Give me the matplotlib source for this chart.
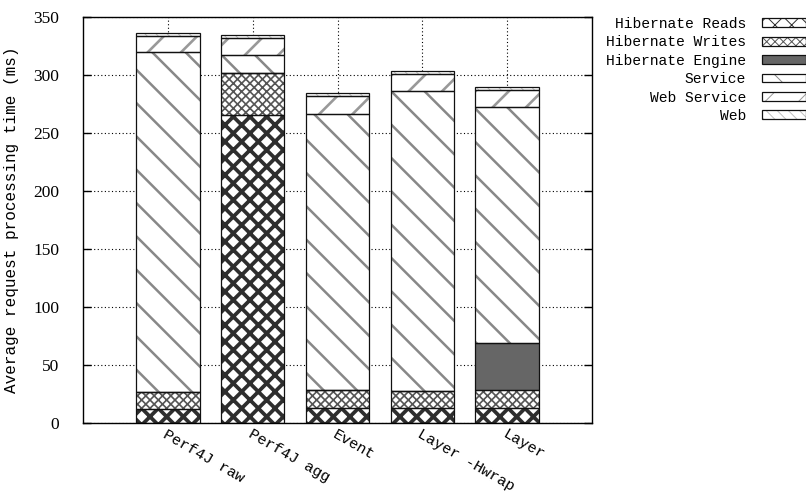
import numpy as np
import matplotlib
matplotlib.use("Agg")
import matplotlib.pyplot as plt

# data (ms), stacked bottom to top
categories = ["Perf4J raw", "Perf4J agg", "Event", "Layer -Hwrap", "Layer"]
hib_reads = [11.8, 265.5, 13.2, 12.7, 13.0]
hib_writes = [14.7, 36.0, 15.5, 14.6, 15.4]
hib_engine = [0.0, 0.0, 0.0, 0.0, 40.8]
service = [293.1, 15.5, 237.9, 258.9, 203.5]
web_service = [14.3, 15.2, 15.0, 14.4, 14.3]
web = [2.1, 2.5, 2.6, 2.8, 2.7]

series = [
    ("Hibernate Reads", hib_reads, dict(hatch="xx", color="#2e2e2e", hlw=2.7, fill=False)),
    ("Hibernate Writes", hib_writes, dict(hatch="xxxx", color="#555555", hlw=1.2, fill=False)),
    ("Hibernate Engine", hib_engine, dict(hatch=None, color="#666666", hlw=1.0, fill=True)),
    ("Service", service, dict(hatch="\\", color="#888888", hlw=1.8, fill=False)),
    ("Web Service", web_service, dict(hatch="/", color="#999999", hlw=1.9, fill=False)),
    ("Web", web, dict(hatch="\\\\\\", color="#c0c0c0", hlw=0.7, fill=False)),
]

mono = "Liberation Mono"
num_font = "Liberation Serif"

fig = plt.figure(figsize=(8.06, 4.96), dpi=100)
ax = fig.add_axes([83 / 806, 73 / 496, 509 / 806, 406 / 496])

x = np.arange(len(categories))
width = 0.75
bottom = np.zeros(len(categories))
handles = []
labels = []
for name, vals, st in series:
    vals = np.array(vals)
    plt.rcParams["hatch.linewidth"] = st["hlw"]
    if st["fill"]:
        inner = ax.bar(x, vals, width, bottom=bottom, color=st["color"],
                       linewidth=0, zorder=2)
    else:
        inner = ax.bar(x, vals, width, bottom=bottom, facecolor="white",
                       edgecolor=st["color"], hatch=st["hatch"], linewidth=0,
                       zorder=2)
    for p in inner:
        if hasattr(p, "set_hatch_linewidth"):
            p.set_hatch_linewidth(st["hlw"])
    outline = ax.bar(x, vals, width, bottom=bottom, fill=False,
                     edgecolor="#111111", linewidth=0.9, zorder=3)
    handles.append((inner[0], outline[0]))
    labels.append(name)
    bottom += vals

ax.set_xlim(-1, 5)
ax.set_ylim(0, 350)
ax.set_yticks(np.arange(0, 351, 50))
ax.set_xticks(x)
ax.set_xticklabels(categories, rotation=-30, ha="left", va="top",
                   rotation_mode="anchor", family=mono, fontsize=11)
for lab in ax.get_yticklabels():
    lab.set_family(num_font)
    lab.set_fontsize(12.5)

ax.tick_params(axis="y", direction="in", length=6, width=1, right=True,
               pad=17)
ax.tick_params(axis="x", length=0, pad=3)

ax.set_axisbelow(True)
ax.grid(True, color="black", linestyle=(0, (1, 2.2)), linewidth=0.8)

for s in ax.spines.values():
    s.set_linewidth(1.0)

ax.set_ylabel("Average request processing time (ms)", family=mono,
              fontsize=11.5, labelpad=10)

leg = fig.legend(handles, labels, loc="upper right",
                 bbox_to_anchor=(1.0, 1 - 17 / 496), frameon=False,
                 markerfirst=False, prop=dict(family=mono, size=10.5),
                 handlelength=3.0, handleheight=0.55, handletextpad=1.1,
                 labelspacing=0.3, borderpad=0, borderaxespad=0)

fig.savefig("out.png", dpi=100)
